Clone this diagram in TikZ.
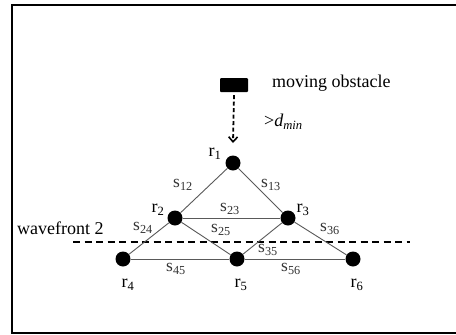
\documentclass[tikz,border=0pt]{standalone}
\usepackage{fontspec}
\setmainfont{Liberation Serif}
\usetikzlibrary{arrows.meta, positioning}
\newcommand{\subtxt}[1]{\textsubscript{#1}}
\tikzset{
  frameline/.style  = {line width=2.6pt, black},
  robot/.style      = {circle, fill=black, minimum size=15pt, inner sep=0pt},
  link/.style       = {line width=0.9pt, black!65},
  obstacle/.style   = {rectangle, fill=black, minimum width=28pt, minimum height=14pt,
                       inner sep=0pt, rounded corners=1pt},
  wavefront/.style  = {line width=1.8pt, black, dash pattern=on 7pt off 4.5pt},
  approach/.style   = {line width=1.8pt, black, dash pattern=on 4pt off 2.5pt,
                       -{Straight Barb[length=5pt, width=9pt, line width=1.6pt]}},
  lbl/.style        = {font=\fontsize{18}{20}\selectfont, inner sep=0pt},
  slbl/.style       = {font=\fontsize{17.5}{19}\selectfont, inner sep=0pt, black!80},
}

\begin{document}
\begin{tikzpicture}[x=1pt, y=-1pt]
  \useasboundingbox (0,0) rectangle (456,335);
  \fill[white] (0,0) rectangle (456,335);
  \draw[frameline] (456,5) -- (12,5) -- (12,333) -- (456,333);
  % obstacle and its approach
  \node[obstacle] (obs) at (234,85) {};
  \node[lbl, anchor=west] (obslbl) at (272,83) {moving obstacle};
  \node[lbl, anchor=west] (dmin) at (264,122) {\textgreater\textit{d}\subtxt{\textit{min}}};
  % robots
  \node[robot] (r1) at (233,163) {};
  \node[robot] (r2) at (175,218) {};
  \node[robot] (r3) at (288,218) {};
  \node[robot] (r4) at (123,259) {};
  \node[robot] (r5) at (237,259) {};
  \node[robot] (r6) at (353,259) {};
  \coordinate (tip) at (233,143);
  \draw[approach] (obs.south) ++(0,3) -- (tip);
  % wavefront
  \coordinate (wl) at (73,242);
  \coordinate (wr) at (410,242);
  \draw[wavefront] (wl) -- (wr);
  \node[lbl, anchor=west] (wlbl) at (17,228) {wavefront 2};
  % links
  \draw[link] (r1) -- (r2);
  \draw[link] (r1) -- (r3);
  \draw[link] (r2) -- (r3);
  \draw[link] (r2) -- (r4);
  \draw[link] (r2) -- (r5);
  \draw[link] (r3) -- (r5);
  \draw[link] (r3) -- (r6);
  \draw[link] (r4) -- (r5);
  \draw[link] (r5) -- (r6);
  % robot labels
  \node[lbl] (l1) at (215,154) {r\subtxt{1}};
  \node[lbl] (l2) at (158,210) {r\subtxt{2}};
  \node[lbl] (l3) at (303,210) {r\subtxt{3}};
  \node[lbl] (l4) at (128,285) {r\subtxt{4}};
  \node[lbl] (l5) at (241,285) {r\subtxt{5}};
  \node[lbl] (l6) at (357,285) {r\subtxt{6}};
  % link labels
  \node[slbl] (s12) at (183,185) {s\subtxt{12}};
  \node[slbl] (s13) at (271,185) {s\subtxt{13}};
  \node[slbl] (s23) at (230,209) {s\subtxt{23}};
  \node[slbl] (s24) at (143,228) {s\subtxt{24}};
  \node[slbl] (s25) at (221,230) {s\subtxt{25}};
  \node[slbl] (s36) at (330,229) {s\subtxt{36}};
  \node[slbl] (s35) at (268,250) {s\subtxt{35}};
  \node[slbl] (s45) at (176,269) {s\subtxt{45}};
  \node[slbl] (s56) at (291,269) {s\subtxt{56}};
\end{tikzpicture}
\end{document}
